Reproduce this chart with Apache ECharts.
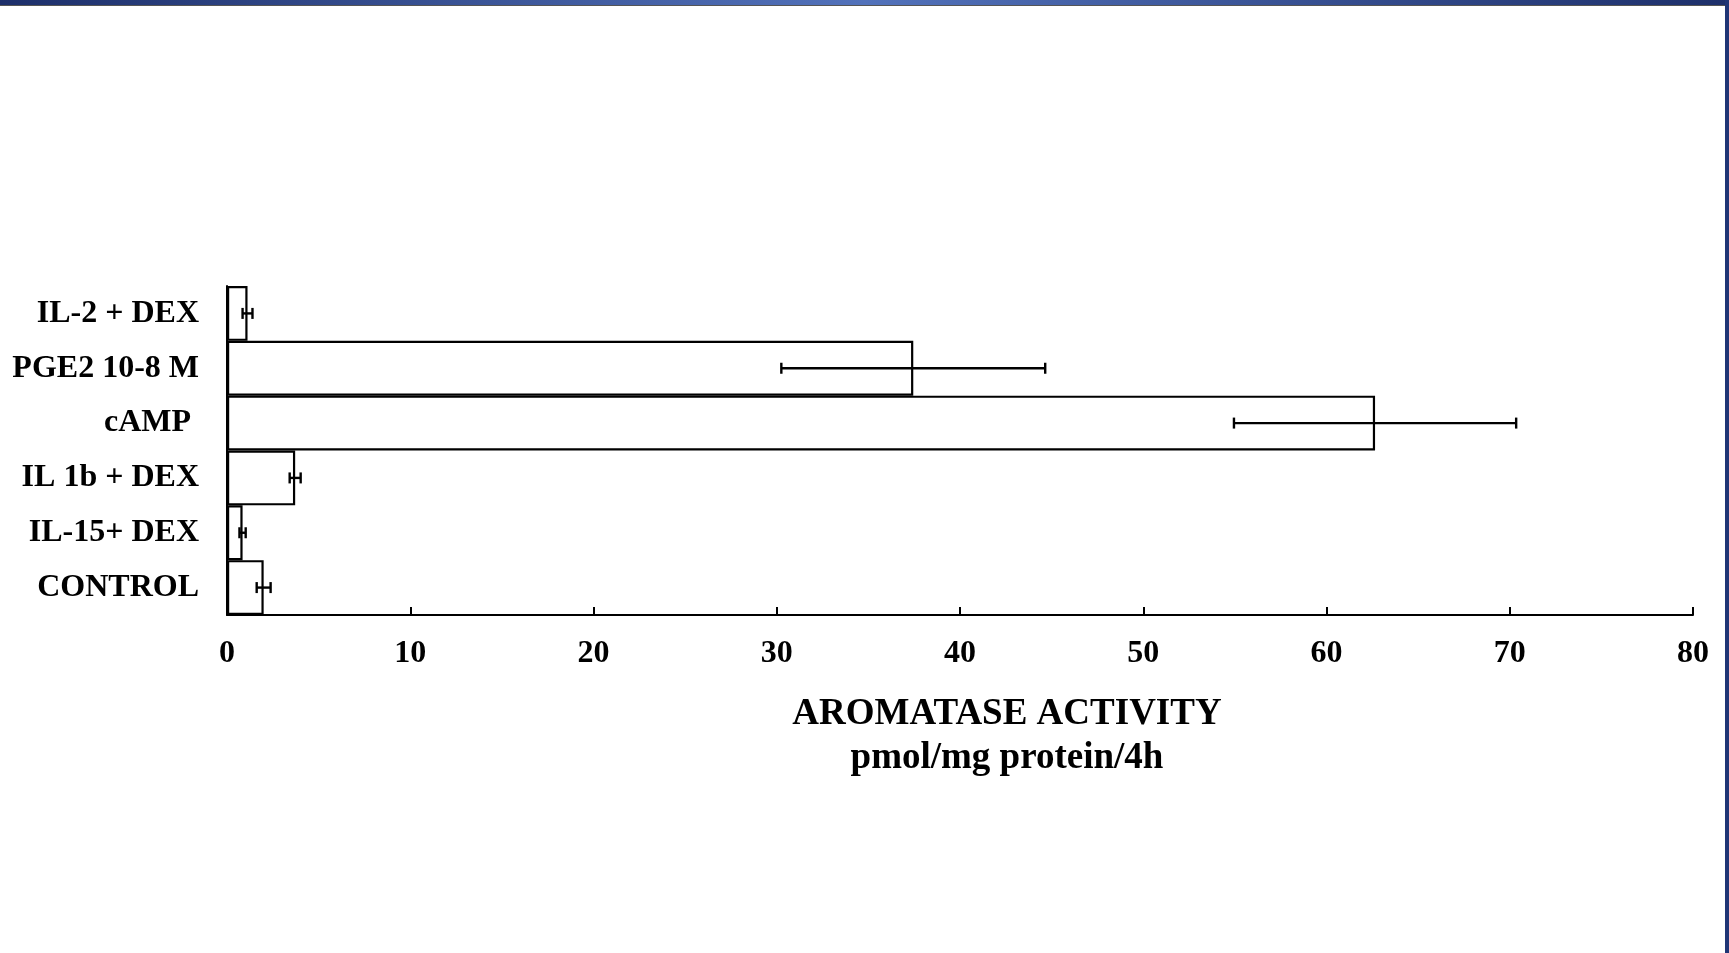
<!DOCTYPE html>
<html>
<head>
<meta charset="utf-8">
<script src="https://cdn.jsdelivr.net/npm/echarts@6/dist/echarts.min.js"></script>
<style>
html,body{margin:0;padding:0;background:#fff;}
#chart{width:1729px;height:953px;}
</style>
</head>
<body>
<div id="chart"></div>
<script>
// Categories listed bottom to top
var categories = ['CONTROL', 'IL-15+ DEX', 'IL 1b + DEX', 'cAMP ', 'PGE2 10-8 M', 'IL-2 + DEX'];
var values = [2.0, 0.85, 3.72, 62.65, 37.45, 1.12];
var errors = [0.38, 0.17, 0.3, 7.7, 7.2, 0.27];
var xTicks = [0, 10, 20, 30, 40, 50, 60, 70, 80];
var titleLines = ['AROMATASE ACTIVITY', 'pmol/mg protein/4h'];

var FONT = '"Liberation Serif", "Times New Roman", serif';
var chart = echarts.init(document.getElementById('chart'), null, {renderer: 'canvas'});

var errData = categories.map(function (c, i) {
  return [i, values[i] - errors[i], values[i] + errors[i]];
});

var option = {
  animation: false,
  backgroundColor: '#ffffff',
  grid: {left: 227, right: 36, top: 286, bottom: 338, containLabel: false},
  title: [{
    text: titleLines.join('\n'),
    left: 1002, top: 687, textAlign: 'center',
    textStyle: {fontFamily: FONT, fontWeight: 'bold', fontSize: 37, lineHeight: 44, color: '#000'}
  }],
  xAxis: {
    type: 'value', min: xTicks[0], max: xTicks[xTicks.length - 1], interval: 10,
    splitLine: {show: false},
    axisLine: {show: true, lineStyle: {color: '#000', width: 2}},
    axisTick: {show: true, inside: true, length: 8, lineStyle: {color: '#000', width: 2}},
    axisLabel: {margin: 23, fontFamily: FONT, fontWeight: 'bold', fontSize: 32, color: '#000'}
  },
  yAxis: {
    type: 'category', data: categories,
    axisLine: {show: true, lineStyle: {color: '#000', width: 2}},
    axisTick: {show: false},
    axisLabel: {margin: 28, lineHeight: 36, padding: [8, 0, 0, 0], fontFamily: FONT, fontWeight: 'bold', fontSize: 32, color: '#000'}
  },
  series: [{
    type: 'bar', data: values, barCategoryGap: '0%', barWidth: '100%',
    itemStyle: {color: '#fff', borderColor: '#000', borderWidth: 2.2},
    z: 2
  }, {
    type: 'custom', data: errData, z: 5,
    renderItem: function (params, api) {
      var cat = api.value(0);
      var lo = api.coord([api.value(1), cat]);
      var hi = api.coord([api.value(2), cat]);
      var h = 5.5;
      var st = {stroke: '#000', lineWidth: 2.4};
      return {type: 'group', children: [
        {type: 'line', shape: {x1: lo[0], y1: lo[1], x2: hi[0], y2: hi[1]}, style: st},
        {type: 'line', shape: {x1: lo[0], y1: lo[1] - h, x2: lo[0], y2: lo[1] + h}, style: st},
        {type: 'line', shape: {x1: hi[0], y1: hi[1] - h, x2: hi[0], y2: hi[1] + h}, style: st}
      ]};
    }
  }],
  graphic: [
    {type: 'rect', left: 0, top: 0, z: 100, shape: {width: 1729, height: 5},
      style: {fill: new echarts.graphic.LinearGradient(0, 0, 1, 0, [
        {offset: 0, color: '#1d2f6a'}, {offset: 0.5, color: '#5272bb'}, {offset: 1, color: '#1d2f6a'}])}},
    {type: 'rect', left: 0, top: 5, z: 100, shape: {width: 1725, height: 1}, style: {fill: '#555'}},
    {type: 'rect', left: 1725, top: 0, z: 100, shape: {width: 4, height: 953}, style: {fill: '#1f3575'}}
  ]
};
chart.setOption(option);
</script>
</body>
</html>
